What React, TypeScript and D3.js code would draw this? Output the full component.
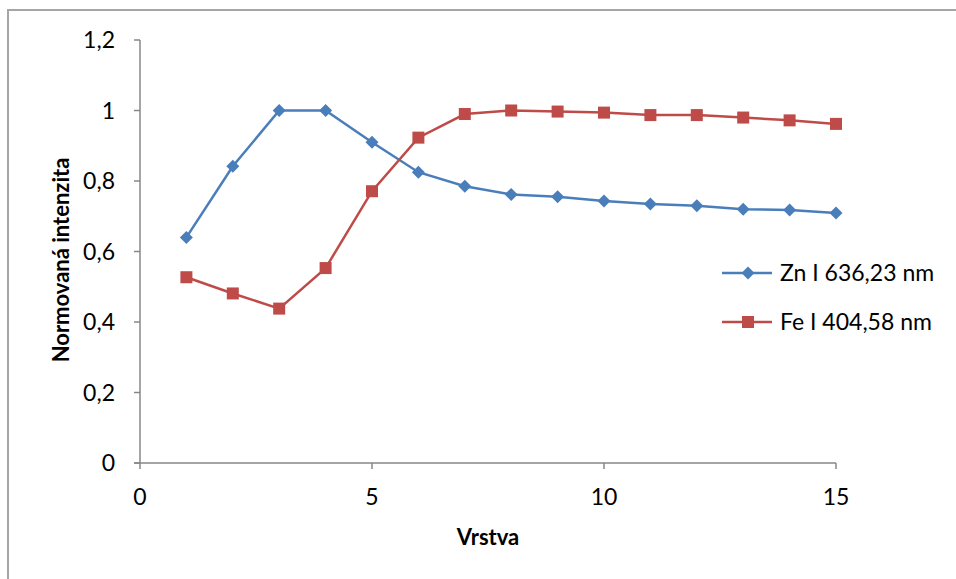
import React from "react";
import * as d3 from "d3";

const layers = [1, 2, 3, 4, 5, 6, 7, 8, 9, 10, 11, 12, 13, 14, 15];
const znValues = [0.64, 0.842, 1.0, 1.0, 0.91, 0.825, 0.785, 0.762, 0.755, 0.743, 0.735, 0.73, 0.72, 0.718, 0.709];
const feValues = [0.527, 0.481, 0.438, 0.553, 0.771, 0.923, 0.99, 1.0, 0.997, 0.994, 0.987, 0.987, 0.98, 0.972, 0.962];
const xTicks = [0, 5, 10, 15];
const yTicks = [0, 0.2, 0.4, 0.6, 0.8, 1, 1.2];
const seriesNames = ["Zn I 636,23 nm", "Fe I 404,58 nm"];
const xTitle = "Vrstva";
const yTitle = "Normovaná intenzita";

const W = 956, H = 579;
const FONT = "Lato, 'Open Sans', sans-serif";
const BLUE = "#4A7EBB";
const RED = "#BE4B48";
const AXIS = "#878787";

export default function App() {
  const x = d3.scaleLinear().domain([0, 15]).range([140, 836]);
  const y = d3.scaleLinear().domain([0, 1.2]).range([463, 40]);
  const fmt = (v: number) => String(+v.toFixed(1)).replace(".", ",");
  const line = d3.line<number>().x((_, i) => x(layers[i])).y((d) => y(d));
  const diamond = (cx: number, cy: number, r = 6.5) =>
    `M${cx},${cy - r}L${cx + r},${cy}L${cx},${cy + r}L${cx - r},${cy}Z`;
  const sq = 6;

  return (
    <svg width={W} height={H} style={{ position: "absolute", left: 0, top: 0, background: "#fff" }}>
      <rect x={8} y={10} width={980} height={620} fill="#fff" stroke="#a6a6a6" strokeWidth={2} />
      {/* axes */}
      <line x1={x(0)} x2={x(0)} y1={y(1.2)} y2={y(0)} stroke={AXIS} strokeWidth={1.5} />
      <line x1={x(0) - 6} x2={x(15)} y1={y(0)} y2={y(0)} stroke={AXIS} strokeWidth={1.5} />
      {yTicks.map((t) => (
        <g key={"y" + t}>
          <line x1={x(0) - 6} x2={x(0)} y1={y(t)} y2={y(t)} stroke={AXIS} strokeWidth={1.5} />
          <text x={115} y={y(t)} dy="0.36em" textAnchor="end" fontFamily={FONT} fontSize={23} fill="#000">
            {fmt(t)}
          </text>
        </g>
      ))}
      {xTicks.map((t) => (
        <g key={"x" + t}>
          <line x1={x(t)} x2={x(t)} y1={y(0)} y2={y(0) + 6} stroke={AXIS} strokeWidth={1.5} />
          <text x={x(t)} y={497} dy="0.36em" textAnchor="middle" fontFamily={FONT} fontSize={23} fill="#000">
            {t}
          </text>
        </g>
      ))}
      <text x={488} y={537} dy="0.36em" textAnchor="middle" fontFamily={FONT} fontSize={22} fontWeight="bold">
        {xTitle}
      </text>
      <text
        transform={`translate(61,260) rotate(-90)`}
        dy="0.36em"
        textAnchor="middle"
        fontFamily={FONT}
        fontSize={22}
        fontWeight="bold"
      >
        {yTitle}
      </text>
      {/* series */}
      <path d={line(znValues) || ""} fill="none" stroke={BLUE} strokeWidth={2.5} />
      <path d={line(feValues) || ""} fill="none" stroke={RED} strokeWidth={2.5} />
      {znValues.map((v, i) => (
        <path key={"z" + i} d={diamond(x(layers[i]), y(v))} fill={BLUE} />
      ))}
      {feValues.map((v, i) => (
        <rect key={"f" + i} x={x(layers[i]) - sq} y={y(v) - sq} width={sq * 2} height={sq * 2} fill={RED} />
      ))}
      {/* legend */}
      <line x1={722} x2={772} y1={273} y2={273} stroke={BLUE} strokeWidth={2.5} />
      <path d={diamond(748, 273)} fill={BLUE} />
      <text x={780} y={273} dy="0.36em" fontFamily={FONT} fontSize={23}>{seriesNames[0]}</text>
      <line x1={722} x2={772} y1={322} y2={322} stroke={RED} strokeWidth={2.5} />
      <rect x={748 - sq} y={322 - sq} width={sq * 2} height={sq * 2} fill={RED} />
      <text x={780} y={322} dy="0.36em" fontFamily={FONT} fontSize={23}>{seriesNames[1]}</text>
    </svg>
  );
}
